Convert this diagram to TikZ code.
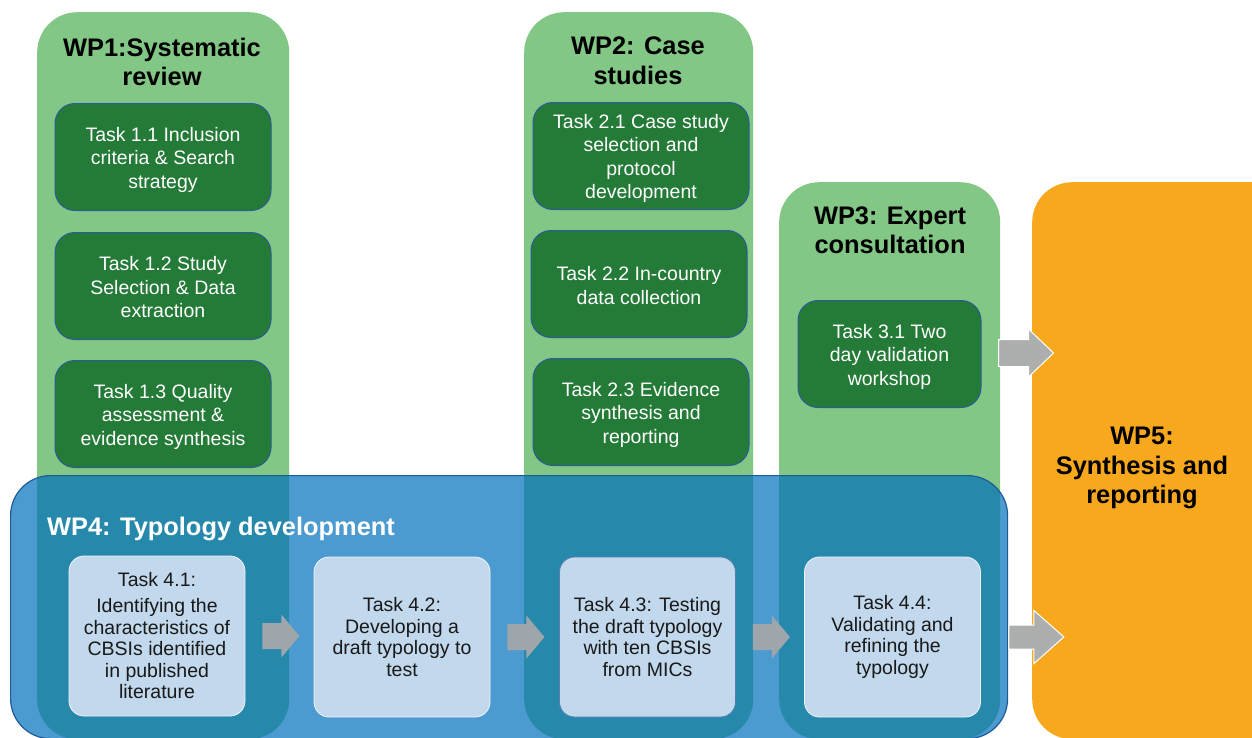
\documentclass[tikz,border=0pt]{standalone}
\usepackage{fontspec}
\setmainfont{Liberation Sans}
\usetikzlibrary{calc}
\definecolor{lgreen}{HTML}{82C785}
\definecolor{dgreen}{HTML}{247A37}
\definecolor{tborder}{HTML}{2C5C96}
\definecolor{wpblue}{HTML}{0070BC}
\definecolor{wpblueb}{HTML}{1F5B98}
\definecolor{ltask}{HTML}{C2D8EC}
\definecolor{orangewp}{HTML}{F8A81D}
\definecolor{arrgray}{HTML}{9EA5AB}
\definecolor{arrgrayo}{HTML}{ADAFAE}
\newcommand\blkarrow[7]{\filldraw[#1] (#2) ++(0,-#3) -- ++(#4,0) -- ++(0,-#5) -- ++(#6,#7) -- ++(-#6,#7) -- ++(0,-#5) -- ++(-#4,0) -- cycle;}
\tikzset{
  col/.style={fill=lgreen, draw=none, rounded corners=40pt, anchor=north west, inner sep=0pt},
  wptitle/.style={align=center, font=\bfseries\fontsize{25.4}{29.5}\selectfont, text=black, inner sep=0pt},
  dtask/.style={fill=dgreen, draw=tborder, line width=1pt, rounded corners=20pt,
    minimum width=216pt, minimum height=107pt, inner sep=0pt},
  dtext/.style={align=center, text=white, font=\fontsize{19.5}{23.5}\selectfont, inner sep=0pt},
  ltaskst/.style={fill=ltask, draw=white!70!ltask, line width=0.8pt, rounded corners=15pt, align=center, text=black!90,
    font=\fontsize{19.5}{21.5}\selectfont, minimum width=176pt, minimum height=160pt, inner sep=0pt},
  inarr/.style={fill=arrgray, draw=none},
  outarr/.style={fill=arrgrayo, draw=white, line width=1pt},
}
\begin{document}
\begin{tikzpicture}[x=1pt,y=-1pt]
\useasboundingbox (0,0) rectangle (1252,737);
\clip (0,0) rectangle (1252,737);
% columns
\node[col, minimum width=252pt, minimum height=727pt] (wp1) at (37,12) {};
\node[col, minimum width=229pt, minimum height=727pt] (wp2) at (524,12) {};
\node[col, minimum width=221pt, minimum height=557pt] (wp3) at (779,182) {};
\node[col, fill=orangewp, minimum width=260pt, minimum height=557pt] (wp5) at (1032,182) {};
% titles
\node[wptitle] (wp1t) at (162,62) {WP1:Systematic\\review};
\node[wptitle] (wp2t) at (638,61) {WP2: Case\\studies};
\node[wptitle] (wp3t) at (890,230) {WP3: Expert\\consultation};
\node[wptitle] (wp5t) at (1142,468) {WP5:\\Synthesis and\\reporting};
% dark green tasks
\node[dtask] (t11) at (163,157) {};
\node[dtext] (t11x) at ($(t11)+(0,2.5)$) {Task 1.1 Inclusion\\criteria \& Search\\strategy};
\node[dtask] (t12) at (163,286) {};
\node[dtext] (t12x) at ($(t12)+(0,1.5)$) {Task 1.2 Study\\Selection \& Data\\extraction};
\node[dtask] (t13) at (163,414) {};
\node[dtext] (t13x) at ($(t13)+(0,2.5)$) {Task 1.3 Quality\\assessment \&\\evidence synthesis};
\node[dtask] (t21) at (641,156) {};
\node[dtext] (t21x) at ($(t21)+(0,2.5)$) {Task 2.1 Case study\\selection and\\protocol\\development};
\node[dtask] (t22) at (639,284) {};
\node[dtext] (t22x) at ($(t22)+(0,1.5)$) {Task 2.2 In-country\\data collection};
\node[dtask] (t23) at (641,412) {};
\node[dtext] (t23x) at ($(t23)+(0,2.5)$) {Task 2.3 Evidence\\synthesis and\\reporting};
\node[dtask, minimum width=183pt] (t31) at (889.5,354) {};
\node[dtext] (t31x) at ($(t31)+(0,2.5)$) {Task 3.1 Two\\day validation\\workshop};
% WP4 overlay
\node[col, fill=wpblue, fill opacity=0.7, draw=wpblueb, line width=1.2pt, minimum width=997pt, minimum height=263pt] (wp4) at (10,475) {};
\node[anchor=west, text=white, font=\bfseries\fontsize{25.4}{29}\selectfont, inner sep=0pt] (wp4t) at (47,529) {WP4: Typology development};
% light tasks
\node[ltaskst] (t41) at (157,636) {Task 4.1:\\[4.5pt]Identifying the\\characteristics of\\CBSIs identified\\in published\\literature};
\node[ltaskst] (t42) at (402,637) {Task 4.2:\\Developing a\\draft typology to\\test};
\node[ltaskst, draw=tborder!80] (t43) at (647.5,637) {Task 4.3: Testing\\the draft typology\\with ten CBSIs\\from MICs};
\node[ltaskst] (t44) at (892.5,637) {Task 4.4:\\Validating and\\refining the\\typology};
% arrows
\blkarrow{inarr}{$(t41.east)+(17,0)$}{13}{19}{8.5}{18}{21.5}
\blkarrow{inarr}{$(t42.east)+(17,0)$}{13}{19}{8.5}{18}{21.5}
\blkarrow{inarr}{$(t43.east)+(17,0)$}{13}{19}{8.5}{18}{21.5}
\blkarrow{outarr}{$(t44.east)+(28,0)$}{12}{25}{14.5}{30}{26.5}
\blkarrow{outarr}{$(t31.east)+(17,-1)$}{13.5}{30}{10.5}{25}{24}
\end{tikzpicture}
\end{document}
